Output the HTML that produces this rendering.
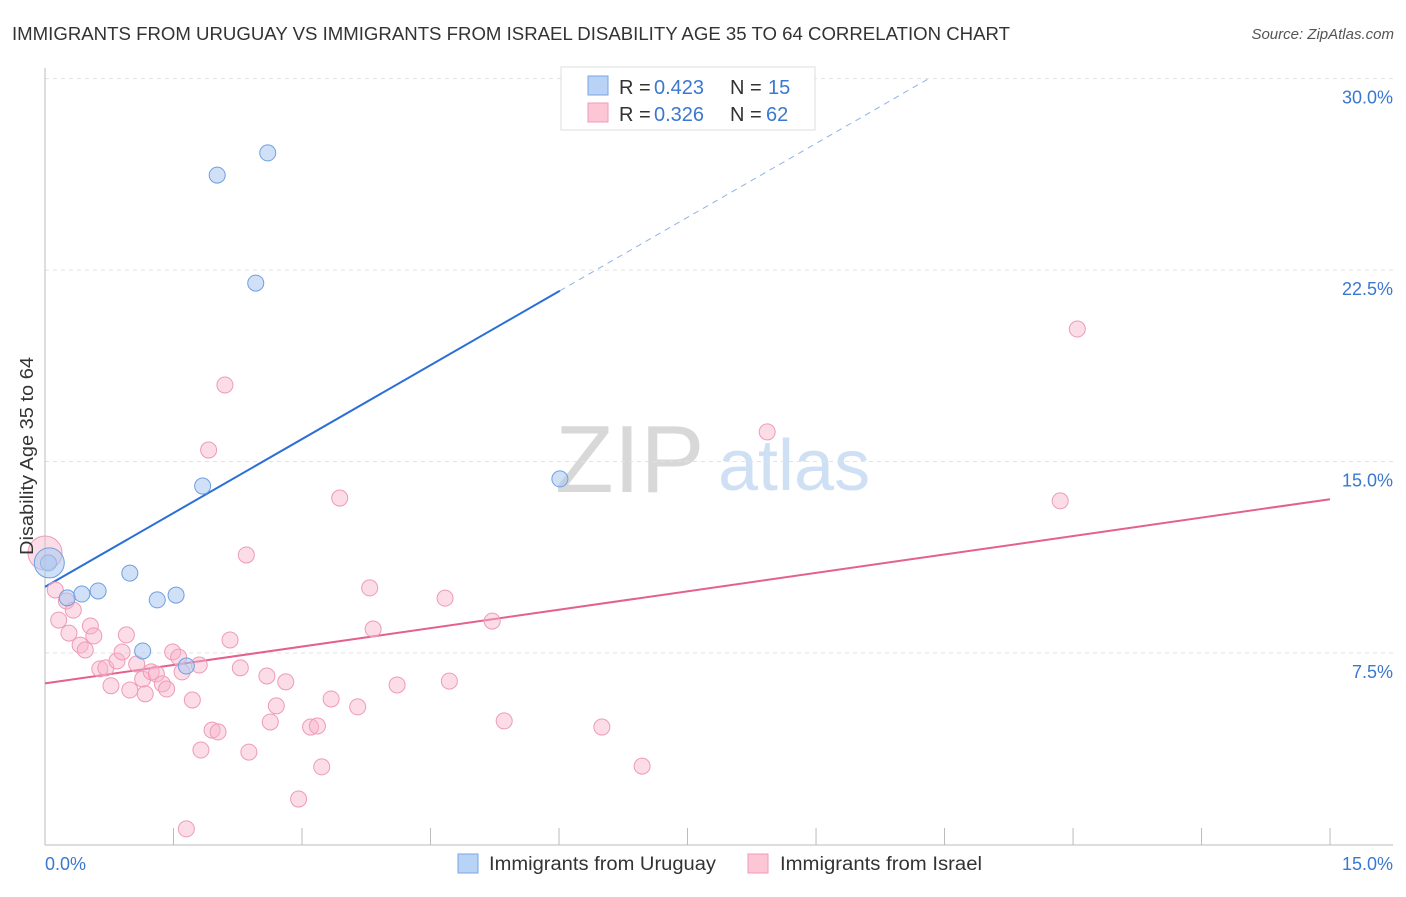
<!DOCTYPE html>
<html><head><meta charset="utf-8"><style>
body{margin:0;background:#fff;font-family:"Liberation Sans",sans-serif;}
svg text{font-family:"Liberation Sans",sans-serif;}
</style></head><body>
<svg id="chart" width="1406" height="892" xmlns="http://www.w3.org/2000/svg">
<text x="12" y="40" font-size="18.5" fill="#333" textLength="998" lengthAdjust="spacingAndGlyphs">IMMIGRANTS FROM URUGUAY VS IMMIGRANTS FROM ISRAEL DISABILITY AGE 35 TO 64 CORRELATION CHART</text>
<text x="1394" y="39" font-size="15" fill="#555" font-style="italic" text-anchor="end">Source: ZipAtlas.com</text>
<g>
<text x="555" y="492" font-size="96" fill="#d8d8d8" font-family="Liberation Serif">ZIP</text>
<text x="718" y="490" font-size="72" fill="#cfe0f4">atlas</text>
</g>
<g id="grid"></g>
<g id="axes"></g>
<g id="lines"></g>
<g id="pts"></g>
<text x="33" y="456" font-size="18" fill="#333" text-anchor="middle" textLength="198" lengthAdjust="spacingAndGlyphs" transform="rotate(-90 33 456)">Disability Age 35 to 64</text>
<g>
<rect x="561" y="67" width="254" height="63" fill="#fff" stroke="#ddd"/>
<rect x="588" y="76" width="20" height="19" fill="#b8d3f5" stroke="#7aa6e0"/>
<rect x="588" y="103" width="20" height="19" fill="#fcc6d6" stroke="#ef9ab8"/>
<text x="619" y="94" font-size="20" fill="#333">R =</text>
<text x="654" y="94" font-size="20" fill="#3a78d0">0.423</text>
<text x="730" y="94" font-size="20" fill="#333">N =</text>
<text x="768" y="94" font-size="20" fill="#3a78d0">15</text>
<text x="619" y="121" font-size="20" fill="#333">R =</text>
<text x="654" y="121" font-size="20" fill="#3a78d0">0.326</text>
<text x="730" y="121" font-size="20" fill="#333">N =</text>
<text x="766" y="121" font-size="20" fill="#3a78d0">62</text>
</g>
<g>
<rect x="458" y="854" width="20" height="19" fill="#b8d3f5" stroke="#7aa6e0"/>
<text x="489" y="870" font-size="19" fill="#333" textLength="227" lengthAdjust="spacingAndGlyphs">Immigrants from Uruguay</text>
<rect x="748" y="854" width="20" height="19" fill="#fcc6d6" stroke="#ef9ab8"/>
<text x="780" y="870" font-size="19" fill="#333" textLength="202" lengthAdjust="spacingAndGlyphs">Immigrants from Israel</text>
</g>
</svg>
<script>
const yTicks=[7.5,15,22.5,30];
const yTickLabels=["7.5%","15.0%","22.5%","30.0%"];
const xTicks=[0,1.5,3,4.5,6,7.5,9,10.5,12,13.5,15];
const uruguayX=[0.04,0.26,0.43,0.62,0.99,1.14,1.31,1.53,1.65,1.84,2.01,2.46,2.60,6.01,0.05];
const uruguayY=[11.03,9.66,9.81,9.93,10.63,7.58,9.58,9.77,6.99,14.04,26.22,21.99,27.09,14.32,11.03];
const israelX=[0,0.12,0.16,0.25,0.28,0.33,0.41,0.47,0.53,0.57,0.64,0.71,0.77,0.84,0.90,0.95,0.99,1.07,1.14,1.17,1.24,1.30,1.37,1.42,1.49,1.56,1.60,1.72,1.80,1.82,1.91,1.95,2.02,2.10,2.16,2.28,2.35,2.38,2.59,2.63,2.70,2.81,2.96,3.10,3.18,3.23,3.34,3.44,3.65,3.79,3.83,4.11,4.67,4.72,5.22,5.36,6.50,6.97,8.43,11.85,12.05,1.65];
const israelY=[11.42,9.97,8.79,9.54,8.28,9.18,7.81,7.62,8.56,8.17,6.88,6.92,6.22,7.19,7.54,8.21,6.05,7.07,6.48,5.90,6.76,6.68,6.29,6.09,7.54,7.34,6.76,5.66,7.03,3.70,15.45,4.48,4.41,18.0,8.01,6.92,11.34,3.62,6.60,4.80,5.43,6.37,1.78,4.60,4.64,3.04,5.70,13.57,5.39,10.05,8.44,6.25,9.65,6.40,8.75,4.84,4.60,3.07,16.16,13.46,20.19,0.61];
const uruguayTrend=[10.09,1.93];
const israelTrend=[6.31,0.481];
const X=v=>45+v*85.67, Y=v=>844.5-v*25.53;
const NS="http://www.w3.org/2000/svg";
function mk(tag,attrs,parent){const e=document.createElementNS(NS,tag);for(const k in attrs)e.setAttribute(k,attrs[k]);document.getElementById(parent).appendChild(e);return e;}
yTicks.forEach((t,i)=>{
 const g=mk('line',{x1:45,x2:1393,y1:Y(t),y2:Y(t),stroke:'#e2e2e2','stroke-dasharray':'4,4'},'grid');
 
 
 const l=mk('text',{x:1393,y:Y(t)+25,'font-size':18,fill:'#3a78d0','text-anchor':'end'},'grid');
 l.textContent=yTickLabels[i];
 
 
});
let a=mk('line',{x1:45,x2:45,y1:68,y2:845,stroke:'#bbb'},'axes');


a=mk('line',{x1:45,x2:1393,y1:845,y2:845,stroke:'#bbb'},'axes');


xTicks.forEach(t=>{
 const k=mk('line',{x1:X(t),x2:X(t),y1:828,y2:845,stroke:'#bbb'},'axes');
 
 
});
let t0=mk('text',{x:45,y:870,'font-size':18,fill:'#3a78d0'},'axes');t0.textContent='0.0%';


let t1=mk('text',{x:1393,y:870,'font-size':18,fill:'#3a78d0','text-anchor':'end'},'axes');t1.textContent='15.0%';


const ub=x=>uruguayTrend[0]+uruguayTrend[1]*x, ib=x=>israelTrend[0]+israelTrend[1]*x;
let ln=mk('line',{x1:X(0),y1:Y(ub(0)),x2:X(6.01),y2:Y(ub(6.01)),stroke:'#2a6fd6','stroke-width':2},'lines');


ln=mk('line',{x1:X(6.01),y1:Y(ub(6.01)),x2:X(10.33),y2:Y(ub(10.33)),stroke:'#8fb2e6','stroke-width':1,'stroke-dasharray':'6,5'},'lines');


ln=mk('line',{x1:X(0),y1:Y(ib(0)),x2:X(15),y2:Y(ib(15)),stroke:'#e4608e','stroke-width':2},'lines');


israelX.forEach((x,i)=>{
 const c=mk('circle',{cx:X(x),cy:Y(israelY[i]),r:i==0?17:8,fill:'rgba(248,180,202,0.45)',stroke:'#ee9ab8','stroke-width':1},'pts');
 
 
});
uruguayX.forEach((x,i)=>{
 const c=mk('circle',{cx:X(x),cy:Y(uruguayY[i]),r:i==14?15:8,fill:'rgba(170,200,240,0.55)',stroke:'#6f9fe0','stroke-width':1},'pts');
 
 
});
</script>
</body></html>
